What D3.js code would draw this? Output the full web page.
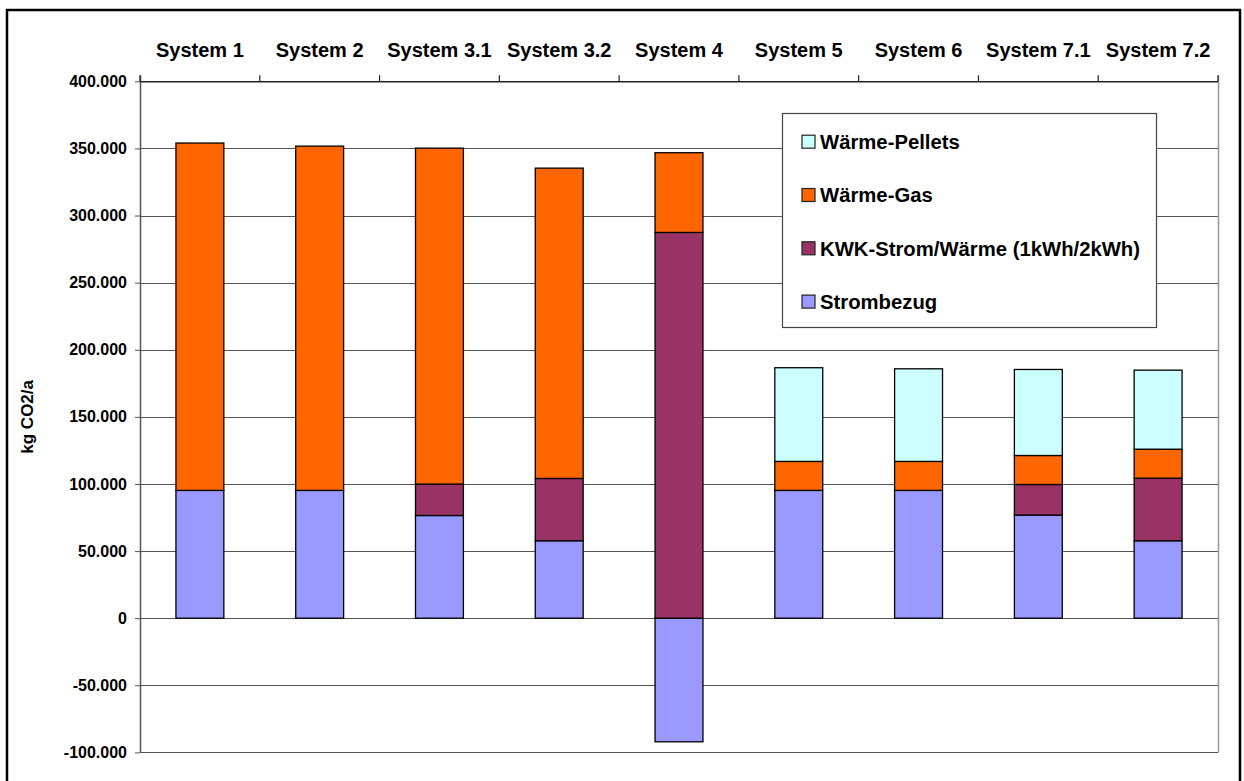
<!DOCTYPE html>
<html>
<head>
<meta charset="utf-8">
<script src="https://cdn.jsdelivr.net/npm/d3@7"></script>
<style>
  body { margin: 0; background: #fff; }
  text { font-family: "Liberation Sans", Arial, sans-serif; font-weight: bold; fill: #000; }
</style>
</head>
<body>
<script>
// Data (kg CO2/a)
const systems = ['System 1', 'System 2', 'System 3.1', 'System 3.2', 'System 4', 'System 5', 'System 6', 'System 7.1', 'System 7.2']
const strombezug = [95200, 95200, 76500, 57700, -92100, 95200, 95200, 76800, 57700]
const kwk        = [0, 0, 23400, 46400, 287400, 0, 0, 22800, 46600]
const waermeGas  = [258800, 256500, 250300, 231200, 59400, 21600, 21600, 21600, 21600]
const pellets    = [0, 0, 0, 0, 0, 69800, 69000, 64100, 58900]
const yTicks = [-100000, -50000, 0, 50000, 100000, 150000, 200000, 250000, 300000, 350000, 400000]

// Series, bottom to top
const series = [
    { key: 'Strombezug', values: strombezug, color: '#9999FF' },
    { key: 'KWK-Strom/Wärme (1kWh/2kWh)', values: kwk, color: '#993366' },
    { key: 'Wärme-Gas', values: waermeGas, color: '#FF6600' },
    { key: 'Wärme-Pellets', values: pellets, color: '#CCFFFF' }
]
// legend shows top series first
const legendOrder = series.slice().reverse()

const table = systems.map((s, i) => {
    const row = { system: s }
    series.forEach(se => { row[se.key] = se.values[i] })
    return row
})

const W = 1244, H = 781
const plot = { left: 140, right: 1218, top: 81.3, bottom: 752.4 }

const de = d3.formatLocale({ decimal: ',', thousands: '.', grouping: [3], currency: ['', ' €'], minus: '-' })
const fmt = de.format(',.0f')

const svg = d3.select('body').append('svg')
    .attr('width', W)
    .attr('height', H)

// outer frame
svg.append('rect')
    .attr('x', 7).attr('y', 10)
    .attr('width', 1233).attr('height', 800)
    .attr('fill', 'none').attr('stroke', '#000').attr('stroke-width', 2.5)

const x = d3.scaleBand()
    .domain(systems)
    .range([plot.left, plot.right])
    .paddingInner(0.6)
    .paddingOuter(0.3)

const y = d3.scaleLinear()
    .domain([-100000, 400000])
    .range([plot.bottom, plot.top])

// gridlines
svg.append('g')
    .selectAll('line')
    .data(yTicks)
    .enter().append('line')
        .attr('x1', plot.left).attr('x2', plot.right)
        .attr('y1', d => Math.round(y(d)) + 0.5)
        .attr('y2', d => Math.round(y(d)) + 0.5)
        .attr('stroke', d => d === 400000 ? '#222' : '#555')
        .attr('stroke-width', 1)

// right border of plot area
svg.append('line')
    .attr('x1', plot.right + 0.5).attr('x2', plot.right + 0.5)
    .attr('y1', plot.top - 6).attr('y2', plot.bottom)
    .attr('stroke', '#999').attr('stroke-width', 1.5)

// stacked bars
const stack = d3.stack()
    .keys(series.map(s => s.key))
    .offset(d3.stackOffsetDiverging)
const stacked = stack(table)

const colorOf = new Map(series.map(s => [s.key, s.color]))

svg.append('g')
    .selectAll('g')
    .data(stacked)
    .enter().append('g')
        .attr('fill', d => colorOf.get(d.key))
    .selectAll('rect')
    .data(d => d.filter(p => p[1] - p[0] !== 0))
    .enter().append('rect')
        .attr('x', d => x(d.data.system))
        .attr('y', d => y(Math.max(d[0], d[1])))
        .attr('width', x.bandwidth())
        .attr('height', d => Math.abs(y(d[0]) - y(d[1])))
        .attr('stroke', '#000')
        .attr('stroke-width', 1.3)

// y axis
const yAxis = svg.append('g')
    .attr('transform', `translate(${plot.left},0)`)
    .call(d3.axisLeft(y).tickValues(yTicks).tickSize(5).tickPadding(8).tickFormat(fmt))
yAxis.select('.domain').attr('stroke', '#555').attr('stroke-width', 1.5)
    .attr('d', `M0.5,${plot.top - 6}V${plot.bottom}`)
yAxis.selectAll('.tick line').attr('stroke', '#555')
yAxis.selectAll('text')
    .style('font-size', '16px')
    .style('font-family', '"Liberation Sans", Arial, sans-serif')
    .style('font-weight', 'bold')

// top category axis: labels at band centers
const xAxis = svg.append('g')
    .attr('transform', `translate(0,${plot.top})`)
    .call(d3.axisTop(x).tickSize(0).tickPadding(24))
xAxis.select('.domain').attr('stroke', '#222').attr('stroke-width', 1.5)
    .attr('d', `M${plot.left},0.5H${plot.right}`)
xAxis.selectAll('text')
    .style('font-size', '20px')
    .style('font-family', '"Liberation Sans", Arial, sans-serif')
    .style('font-weight', 'bold')

// tick marks at category boundaries
const bounds = d3.range(systems.length + 1).map(i => plot.left + i * x.step())
svg.append('g')
    .selectAll('line')
    .data(bounds)
    .enter().append('line')
        .attr('x1', d => d).attr('x2', d => d)
        .attr('y1', plot.top - 6).attr('y2', plot.top)
        .attr('stroke', '#222').attr('stroke-width', 1.2)

// y axis title
svg.append('text')
    .attr('transform', `translate(33,${(plot.top + plot.bottom) / 2}) rotate(-90)`)
    .attr('text-anchor', 'middle')
    .style('font-size', '17px')
    .text('kg CO2/a')

// legend
const legend = svg.append('g')
legend.append('rect')
    .attr('x', 782.5).attr('y', 113.5)
    .attr('width', 374).attr('height', 214)
    .attr('fill', '#fff').attr('stroke', '#444').attr('stroke-width', 1.2)

const item = legend.selectAll('g.item')
    .data(legendOrder)
    .enter().append('g')
        .attr('class', 'item')
        .attr('transform', (d, i) => `translate(802,${141.7 + i * 53.3})`)
item.append('rect')
    .attr('x', 0).attr('y', -6.5)
    .attr('width', 13).attr('height', 13)
    .attr('fill', d => d.color)
    .attr('stroke', '#222').attr('stroke-width', 1.2)
item.append('text')
    .attr('x', 18).attr('y', 0).attr('dy', '0.36em')
    .style('font-size', '20.3px')
    .text(d => d.key)
</script>
</body>
</html>
